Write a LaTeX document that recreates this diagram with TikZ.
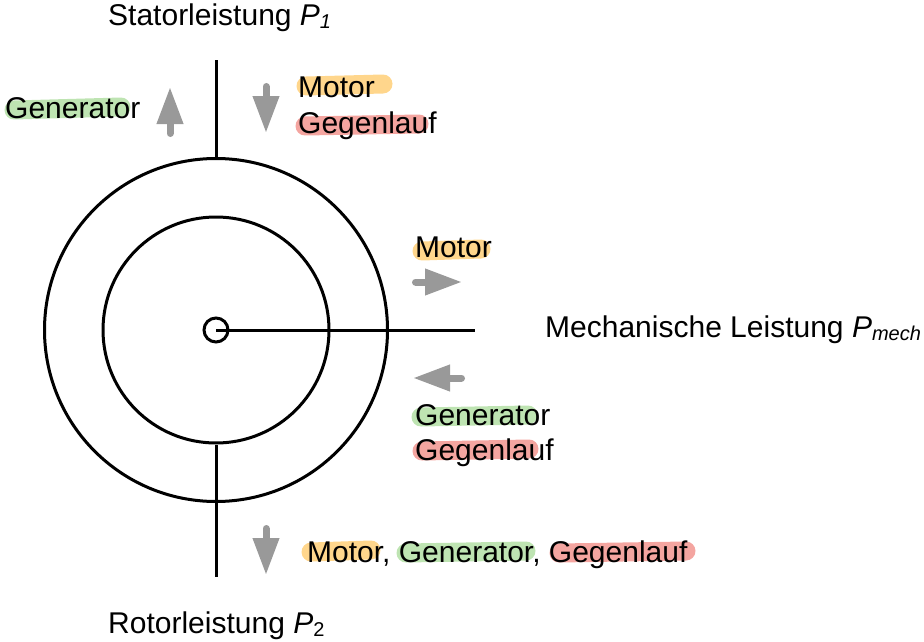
\documentclass[tikz,border=0pt]{standalone}
\usepackage{fontspec}
\setmainfont{Liberation Sans}
\usetikzlibrary{arrows.meta}
\definecolor{hlo}{RGB}{255,214,140}
\definecolor{hlg}{RGB}{190,228,178}
\definecolor{hlr}{RGB}{244,165,160}
\definecolor{arrowgrey}{RGB}{153,153,153}
\newcommand{\sbs}[1]{\raisebox{-3pt}{\fontsize{20}{20}\selectfont #1}}
\begin{document}
\begin{tikzpicture}[x=1pt,y=-1pt,
  lbl/.style={anchor=base west, inner sep=0pt, font=\fontsize{30}{35}\selectfont},
  ring/.style={circle, draw=black, line width=3pt, inner sep=0pt},
  wire/.style={line width=3pt, black},
  flow/.style={line width=7pt, line cap=round, draw=arrowgrey, -{Triangle[width=25pt,length=37pt,fill=arrowgrey]}},
  hl/.style={line width=19pt, line cap=round}]
\useasboundingbox (0,0) rectangle (924,642);

% highlights
\draw[hl,draw=hlg] (14,110) -- (121,107);
\draw[hl,draw=hlo] (306,86) -- (383,84);
\draw[hl,draw=hlr] (305,126) -- (419,124);
\draw[hl,draw=hlo] (422,251) -- (481,249);
\draw[hl,draw=hlg] (421,417) -- (528,415);
\draw[hl,draw=hlr] (422,451) -- (529,449);
\draw[hl,draw=hlo] (311,552) -- (371,550);
\draw[hl,draw=hlg] (406,553) -- (526,551);
\draw[hl,draw=hlr] (559,553) -- (686,551);

% machine
\coordinate (c) at (216,330);
\node[ring, minimum size=343pt] (outer) at (c) {};
\node[ring, minimum size=226pt] (inner) at (c) {};
\node[ring, minimum size=24pt, fill=white] (hub) at (c) {};
\coordinate (topend) at (216,60);
\coordinate (botend) at (216,577);
\coordinate (rightend) at (475,330);
\draw[wire] (outer.north) -- (topend);
\draw[wire] (inner.south) -- (botend);
\draw[wire] (c) -- (rightend);

% flow arrows
\draw[flow] (170,133.5) -- (170,87);
\draw[flow] (266,86.5) -- (266,133);
\draw[flow] (415.5,282) -- (462,282);
\draw[flow] (461.5,378) -- (413,378);
\draw[flow] (266,528.5) -- (266,575);

% labels
\node[lbl] (stator) at (108,26) {Statorleistung \textit{P}\sbs{\textit{1}}};
\node[lbl] (gen1) at (5,118) {Generator};
\node[lbl] (mot1) at (298,98) {Motor};
\node[lbl] (geg1) at (298,133) {Gegenlauf};
\node[lbl] (mot2) at (415,257) {Motor};
\node[lbl] (mech) at (545,337) {Mechanische Leistung \textit{P}\sbs{\textit{mech}}};
\node[lbl] (gen2) at (415,425) {Generator};
\node[lbl] (geg2) at (415,460) {Gegenlauf};
\node[lbl] (all) at (307,562) {Motor, Generator, Gegenlauf};
\node[lbl] (rotor) at (108,633) {Rotorleistung \textit{P}\sbs{2}};
\end{tikzpicture}
\end{document}
